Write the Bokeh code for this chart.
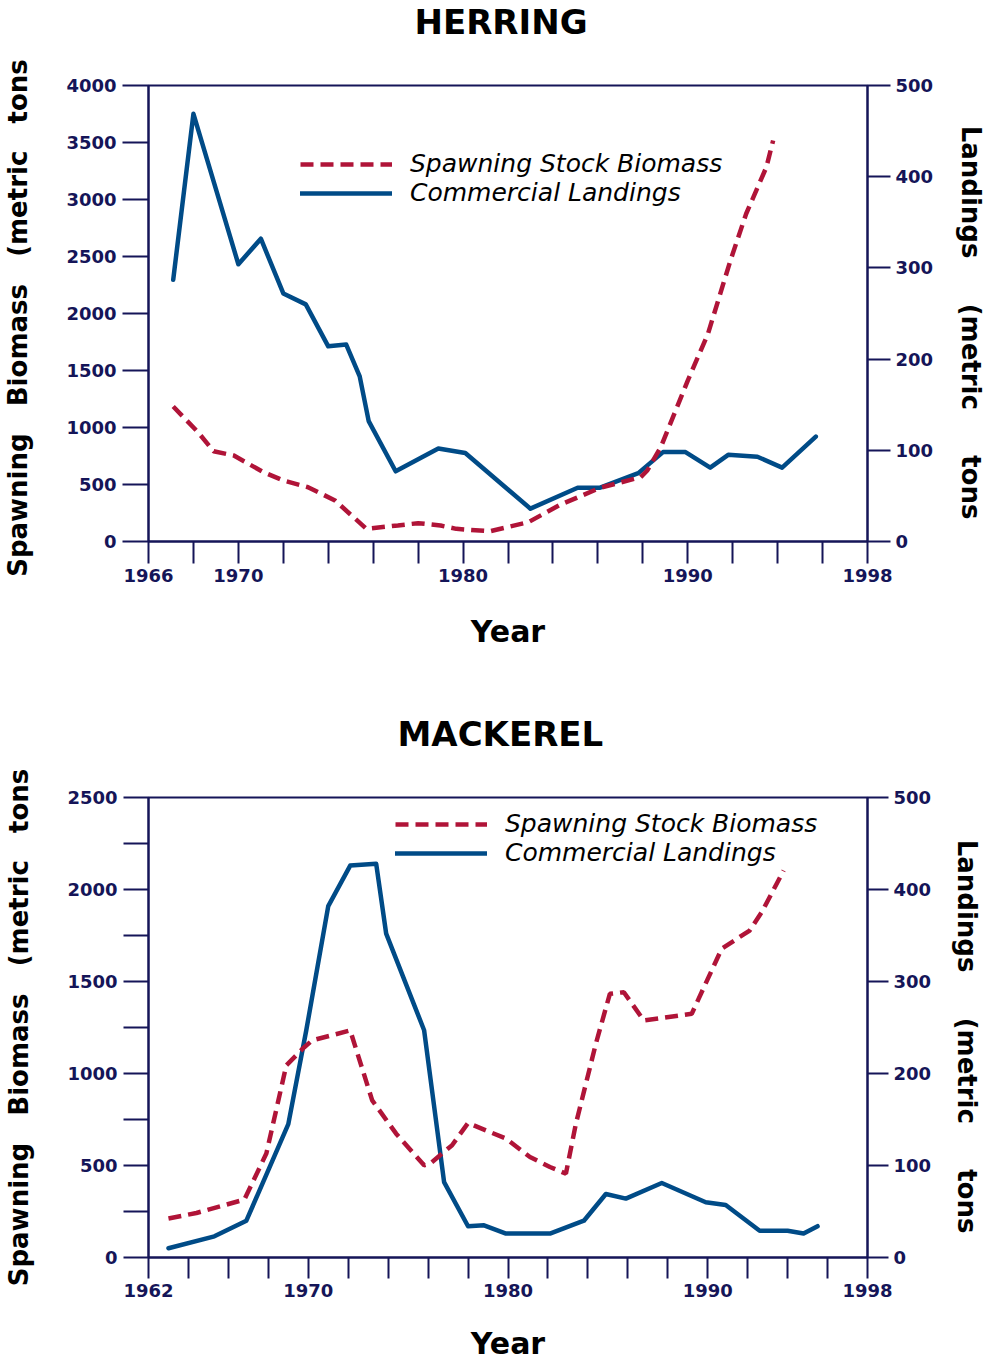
import math
from bokeh.plotting import figure
from bokeh.models import Range1d, LinearAxis, FixedTicker, Legend, LegendItem
from bokeh.layouts import column
from bokeh.embed import file_html
from bokeh.resources import INLINE

# ---------------- DATA ----------------
# Herring
herring_ssb_year = [1967.1, 1968.2, 1968.9, 1969.8, 1971.1, 1972.0, 1973.1, 1974.3, 1975.7, 1977.1,
                    1978.0, 1979.0, 1979.7, 1981.2, 1982.9, 1984.3, 1986.1, 1987.9, 1988.2, 1988.8,
                    1990.0, 1990.9, 1991.9, 1992.6, 1993.5, 1993.8]
herring_ssb = [1184, 959, 792, 754, 610, 535, 476, 360, 111, 141,
               161, 140, 111, 90, 169, 320, 471, 564, 623, 827,
               1412, 1822, 2465, 2875, 3284, 3518]
herring_land_year = [1967.1, 1968.0, 1970.0, 1971.0, 1972.0, 1973.0, 1974.0, 1974.8, 1975.4, 1975.8,
                     1977.0, 1978.9, 1980.1, 1983.0, 1985.1, 1986.1, 1987.8, 1988.9, 1989.9, 1991.0,
                     1991.8, 1993.1, 1994.2, 1995.7]
herring_land = [287, 469, 304, 332, 272, 260, 214, 216, 181, 132,
                77, 102, 97, 36, 59, 59, 75, 98, 98, 81,
                95, 93, 81, 115]

# Mackerel
mackerel_ssb_year = [1963.0, 1964.4, 1966.8, 1967.9, 1968.9, 1969.8, 1970.2, 1972.1, 1973.2, 1974.4,
                     1975.8, 1976.1, 1977.2, 1978.0, 1979.9, 1981.1, 1982.1, 1982.9, 1983.4, 1984.4,
                     1985.1, 1985.8, 1986.8, 1989.2, 1990.7, 1992.1, 1992.7, 1993.8]
mackerel_ssb = [212, 242, 315, 565, 1044, 1143, 1180, 1234, 854, 673,
                501, 510, 610, 731, 646, 546, 492, 456, 727, 1162,
                1433, 1442, 1288, 1325, 1678, 1777, 1876, 2103]
mackerel_land_year = [1963.0, 1965.3, 1966.9, 1969.0, 1969.9, 1971.0, 1972.1, 1973.4, 1973.9, 1975.8,
                      1976.8, 1978.0, 1978.8, 1979.9, 1982.1, 1983.8, 1984.9, 1985.9, 1987.7, 1989.9,
                      1990.9, 1992.6, 1994.0, 1994.8, 1995.5]
mackerel_land = [10, 23, 40, 145, 247, 382, 426, 428, 352, 247,
                 82, 34, 35, 26, 26, 40, 69, 64, 81, 60,
                 57, 29, 29, 26, 34]

# Axis ticks / labels
herring_xticks = list(range(1966, 1999, 2))
herring_xlabels = [1966, 1970, 1980, 1990, 1998]
herring_yticks = list(range(0, 4001, 500))
herring_ylabels = herring_yticks
mackerel_xticks = list(range(1962, 1999, 2))
mackerel_xlabels = [1962, 1970, 1980, 1990, 1998]
mackerel_yticks = list(range(0, 2501, 250))
mackerel_ylabels = list(range(0, 2501, 500))
landing_ticks = list(range(0, 501, 100))

chart_titles = ["HERRING", "MACKEREL"]
series_labels = ["Spawning Stock Biomass", "Commercial Landings"]
NB = "\u00a0"
left_words = ["Spawning", "Biomass", "(metric", "tons"]
right_words = ["Landings", "(metric", "tons"]
x_title = "Year"

# ---------------- STYLE ----------------
NAVY = "#151558"
BLUE = "#004b87"
RED = "#b01438"
FONT = "DejaVu Sans"


def title_strip(text, height, standoff, offset):
    t = figure(width=989, height=height, output_backend="svg", toolbar_location=None,
               x_axis_location=None, y_axis_location=None,
               min_border_left=0, min_border_right=0, min_border_top=0, min_border_bottom=0)
    t.title.text = text
    t.title.align = "left"
    t.title.offset = offset
    t.title.vertical_align = "top"
    t.title.text_font = FONT
    t.title.text_font_style = "bold"
    t.title.text_font_size = "34px"
    t.title.text_color = "black"
    t.title.standoff = standoff
    t.grid.visible = False
    t.outline_line_color = None
    t.background_fill_color = "white"
    t.border_fill_color = "white"
    return t


def style_axis(ax, tick_out, standoff):
    ax.axis_line_color = NAVY
    ax.axis_line_width = 2
    ax.major_tick_line_color = NAVY
    ax.major_tick_line_width = 2
    ax.major_tick_out = tick_out
    ax.major_tick_in = 0
    ax.minor_tick_line_color = None
    ax.major_label_text_font = FONT
    ax.major_label_text_font_style = "bold"
    ax.major_label_text_font_size = "18px"
    ax.major_label_text_color = NAVY
    ax.major_label_standoff = standoff
    ax.axis_label_text_font = FONT
    ax.axis_label_text_font_style = "bold"
    ax.axis_label_text_color = "black"


def make_chart(height, border_top, border_bottom, border_right,
               x0, x1, ymax, xticks, xlabels, yticks, ylabels,
               ssb_x, ssb_y, land_x, land_y,
               legend_loc, ytick_out, rtick_out, xtick_out,
               year_standoff, right_standoff, left_title, right_title):
    p = figure(width=989, height=height, output_backend="svg", toolbar_location=None,
               x_range=Range1d(x0, x1), y_range=Range1d(0, ymax),
               min_border_left=148, min_border_right=border_right,
               min_border_top=border_top, min_border_bottom=border_bottom)
    p.title.visible = False
    p.grid.visible = False
    p.outline_line_color = NAVY
    p.outline_line_width = 2
    p.background_fill_color = "white"
    p.border_fill_color = "white"

    p.extra_y_ranges = {"land": Range1d(0, 500)}
    raxis = LinearAxis(y_range_name="land")
    p.add_layout(raxis, "right")

    xa = p.xaxis[0]
    style_axis(xa, xtick_out, 5)
    xa.ticker = FixedTicker(ticks=xticks)
    xa.major_label_overrides = {t: ("" if t not in xlabels else str(t)) for t in xticks}
    xa.axis_label = x_title
    xa.axis_label_text_font_size = "30px"
    xa.axis_label_standoff = year_standoff

    ya = p.yaxis[0]
    style_axis(ya, ytick_out, 6)
    ya.ticker = FixedTicker(ticks=yticks)
    ya.major_label_overrides = {t: ("" if t not in ylabels else str(t)) for t in yticks}
    ya.axis_label = left_title
    ya.axis_label_text_font_size = "26px"
    ya.axis_label_standoff = 30

    style_axis(raxis, rtick_out, 5)
    raxis.ticker = FixedTicker(ticks=landing_ticks)
    raxis.axis_label = right_title
    raxis.axis_label_text_font_size = "26px"
    raxis.axis_label_standoff = right_standoff

    r_land = p.line(land_x, land_y, y_range_name="land", line_color=BLUE, line_width=4.5,
                    line_join="round", line_cap="round")
    r_ssb = p.line(ssb_x, ssb_y, line_color=RED, line_width=4.5, line_dash="13 7")

    legend = Legend(items=[LegendItem(label=series_labels[0], renderers=[r_ssb]),
                           LegendItem(label=series_labels[1], renderers=[r_land])],
                    location=legend_loc, orientation="vertical",
                    label_text_font=FONT, label_text_font_style="italic",
                    label_text_font_size="25px", label_text_color="black",
                    glyph_width=92, glyph_height=20, label_standoff=18,
                    padding=0, margin=0, spacing=-2,
                    border_line_color=None, background_fill_alpha=0)
    p.add_layout(legend, "center")
    return p


herring_left = (NB * 3).join(left_words) + NB
herring_right = NB * 2 + (NB * 5).join(right_words)
mackerel_left = (NB * 3).join(left_words)
mackerel_right = NB * 2 + (NB * 5).join(right_words)

t1 = title_strip(chart_titles[0], 46, 2, 266)
p1 = make_chart(662, 39, 167, 122, 1966, 1998, 4000,
                herring_xticks, herring_xlabels, herring_yticks, herring_ylabels,
                herring_ssb_year, herring_ssb, herring_land_year, herring_land,
                legend_loc=(152, 334),
                ytick_out=26, rtick_out=23, xtick_out=22,
                year_standoff=29, right_standoff=20,
                left_title=herring_left, right_title=herring_right)

t2 = title_strip(chart_titles[1], 54, 10, 249)
p2 = make_chart(602, 35, 107, 120, 1962, 1998, 2500,
                mackerel_xticks, mackerel_xlabels, mackerel_yticks, mackerel_ylabels,
                mackerel_ssb_year, mackerel_ssb, mackerel_land_year, mackerel_land,
                legend_loc=(247, 390),
                ytick_out=25, rtick_out=21, xtick_out=21,
                year_standoff=26, right_standoff=18,
                left_title=mackerel_left, right_title=mackerel_right)

layout = column(t1, p1, t2, p2)
open("out.html", "w").write(file_html(layout, INLINE))
